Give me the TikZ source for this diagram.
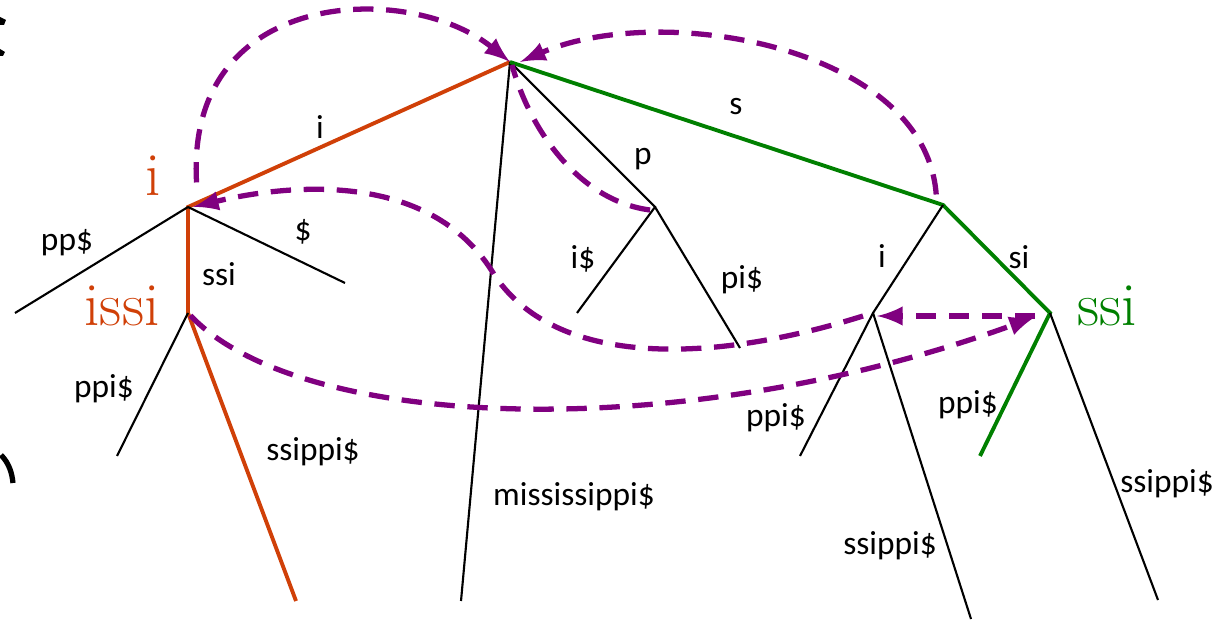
\documentclass[tikz,border=0pt]{standalone}
\usepackage{fontspec}
\usepackage{xcolor}
\newfontfamily\edgefont{Carlito}
\usetikzlibrary{arrows}
\usetikzlibrary{math}
\definecolor{myred}{RGB}{208, 64, 8}
\definecolor{mygreen}{RGB}{0, 128, 0}
\definecolor{mypurple}{RGB}{128, 0, 128}

\begin{document}
\begin{tikzpicture}
\tikzmath{
\H=6.21;
}
\useasboundingbox (0,0) rectangle (12.19,\H);
\tikzset{
  edge/.style={line width=0.6},
  rededge/.style={line width=1.1, color=myred},
  greenedge/.style={line width=1.1, color=mygreen},
  suffixlink/.style={-latex, line width=1.5, color=mypurple, dash pattern=on 5.8pt off 3.6pt},
  lab/.style={inner sep=0, font=\edgefont\fontsize{9.5}{11}\selectfont},
  big/.style={inner sep=0, anchor=base, font=\fontsize{17.5}{19}\selectfont}
}

% internal nodes
\coordinate (R) at (5.10, 5.59);
\coordinate (I) at (1.88, 4.14);
\coordinate (ISSI) at (1.88, 3.08);
\coordinate (P) at (6.55, 4.14);
\coordinate (S) at (9.43, 4.16);
\coordinate (SI) at (8.73, 3.08);
\coordinate (SSI) at (10.50, 3.08);

% leaves
\coordinate (L1) at (0.15, 3.08);
\coordinate (L2) at (3.45, 3.38);
\coordinate (L3) at (1.17, 1.65);
\coordinate (L4) at (2.96, 0.20);
\coordinate (L5) at (4.61, 0.20);
\coordinate (L6) at (5.77, 3.08);
\coordinate (L7) at (7.40, 2.73);
\coordinate (L8) at (8.00, 1.65);
\coordinate (L9) at (9.71, 0.02);
\coordinate (L10) at (9.80, 1.65);
\coordinate (L11) at (11.58, 0.21);

% tree edges
\draw[rededge] (R) -- (I) -- (ISSI) -- (L4);
\draw[edge] (I) -- (L1);
\draw[edge] (I) -- (L2);
\draw[edge] (ISSI) -- (L3);
\draw[edge] (R) -- (L5);
\draw[edge] (R) -- (P) -- (L6);
\draw[edge] (P) -- (L7);
\draw[greenedge] (R) -- (S) -- (SSI) -- (L10);
\draw[edge] (S) -- (SI) -- (L8);
\draw[edge] (SI) -- (L9);
\draw[edge] (SSI) -- (L11);

% edge labels
\node[lab] (ti) at (3.20, 4.94) {i};
\node[lab] (ts) at (7.36, 5.14) {s};
\node[lab] (tp) at (6.43, 4.62) {p};
\node[lab] (tpp) at (0.67, 3.78) {pp\$};
\node[lab] (tdol) at (3.03, 3.89) {\$};
\node[lab] (tssi) at (2.19, 3.47) {ssi};
\node[lab] (tppi) at (1.04, 2.32) {ppi\$};
\node[lab] (tssippi) at (3.13, 1.69) {ssippi\$};
\node[lab] (tmiss) at (5.74, 1.24) {mississippi\$};
\node[lab] (tidol) at (5.83, 3.62) {i\$};
\node[lab] (tpidol) at (7.42, 3.41) {pi\$};
\node[lab] (tsi1) at (8.82, 3.65) {i};
\node[lab] (tsi2) at (10.19, 3.64) {si};
\node[lab] (tppi2) at (7.76, 2.03) {ppi\$};
\node[lab] (tppi3) at (9.68, 2.16) {ppi\$};
\node[lab] (tssippi2) at (8.90, 0.75) {ssippi\$};
\node[lab] (tssippi3) at (11.67, 1.37) {ssippi\$};

% node names
\node[big, color=myred] (nI) at (1.53, 4.25) {i};
\node[big, color=myred] (nISSI) at (1.22, 2.95) {issi};
\node[big, color=mygreen] (nSSI) at (11.07, 2.95) {ssi};

% suffix links
\draw[suffixlink, shorten <=7pt] ([xshift=1mm]I) .. controls (1.85, 6.35) and (4.1, 6.4) .. (R);
\draw[suffixlink, shorten <=3pt] ([xshift=-0.6mm]S) .. controls (9.25, 5.75) and (6.6, 6.2) .. ([xshift=1mm]R);
\draw[suffixlink, -] ([xshift=-0.5mm,yshift=-0.3mm]P) .. controls (5.8, 4.2) and (5.3, 4.9) .. ([xshift=0.2mm,yshift=-0.3mm]R);
\draw[suffixlink] ([xshift=-1mm,yshift=-0.3mm]SI) .. controls (7.2, 2.6) and (5.6, 2.5) .. (4.95, 3.45)
  .. controls (4.3, 4.55) and (2.8, 4.35) .. ([xshift=0.5mm]I);
\draw[suffixlink, shorten <=1pt] (ISSI) .. controls (3.0, 1.9) and (6.8, 1.75) .. ([xshift=-1.5mm,yshift=-0.4mm]SSI);
\draw[suffixlink] ([xshift=-1.5mm,yshift=-0.3mm]SSI) -- ([xshift=0.4mm,yshift=-0.3mm]SI);

% cut-off marks on the left edge
\fill (0, 6.04) -- (0.06, 6.01) -- (0.04, 5.96) -- (0, 5.96) -- cycle;
\fill (0, 5.72) -- (0.05, 5.69) -- (0.03, 5.65) -- (0, 5.65) -- cycle;
\draw[line width=1.5] (0.01, 1.66) .. controls (0.09, 1.58) and (0.12, 1.48) .. (0.13, 1.38);
\end{tikzpicture}
\end{document}
